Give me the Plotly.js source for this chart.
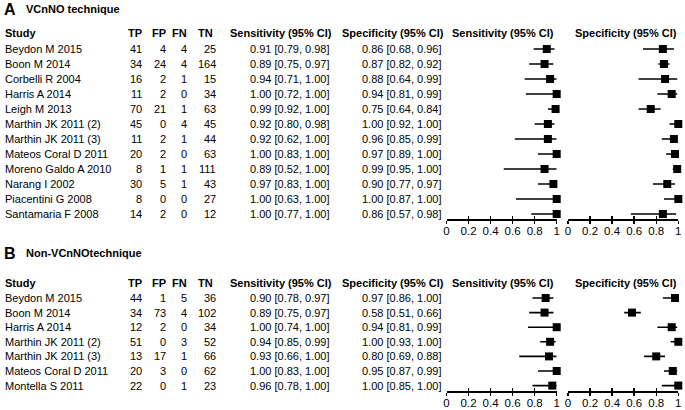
<!DOCTYPE html>
<html><head><meta charset="utf-8">
<script src="https://cdn.plot.ly/plotly-3.0.1.min.js"></script>
<style>html,body{margin:0;padding:0;background:#fff}#chart{width:685px;height:410px}</style>
</head><body><div id="chart"></div>
<script>
// ---------- Panel A data (VCnNO technique) ----------
const studiesA = ["Beydon M 2015","Boon M 2014","Corbelli R 2004","Harris A 2014","Leigh M 2013","Marthin JK 2011 (2)","Marthin JK 2011 (3)","Mateos Coral D 2011","Moreno Galdo A 2010","Narang I 2002","Piacentini G 2008","Santamaria F 2008"];
const tpA = [41,34,16,11,70,45,11,20,8,30,8,14];
const fpA = [4,24,2,2,21,0,2,2,1,5,0,2];
const fnA = [4,4,1,0,1,4,1,0,1,1,0,0];
const tnA = [25,164,15,34,63,45,44,63,111,43,27,12];
const sensA = [0.91,0.89,0.94,1.00,0.99,0.92,0.92,1.00,0.89,0.97,1.00,1.00];
const sensLoA = [0.79,0.75,0.71,0.72,0.92,0.80,0.62,0.83,0.52,0.83,0.63,0.77];
const sensHiA = [0.98,0.97,1.00,1.00,1.00,0.98,1.00,1.00,1.00,1.00,1.00,1.00];
const specA = [0.86,0.87,0.88,0.94,0.75,1.00,0.96,0.97,0.99,0.90,1.00,0.86];
const specLoA = [0.68,0.82,0.64,0.81,0.64,0.92,0.85,0.89,0.95,0.77,0.87,0.57];
const specHiA = [0.96,0.92,0.99,0.99,0.84,1.00,0.99,1.00,1.00,0.97,1.00,0.98];

// ---------- Panel B data (Non-VCnNO technique) ----------
const studiesB = ["Beydon M 2015","Boon M 2014","Harris A 2014","Marthin JK 2011 (2)","Marthin JK 2011 (3)","Mateos Coral D 2011","Montella S 2011"];
const tpB = [44,34,12,51,13,20,22];
const fpB = [1,73,2,0,17,3,0];
const fnB = [5,4,0,3,1,0,1];
const tnB = [36,102,34,52,66,62,23];
const sensB = [0.90,0.89,1.00,0.94,0.93,1.00,0.96];
const sensLoB = [0.78,0.75,0.74,0.85,0.66,0.83,0.78];
const sensHiB = [0.97,0.97,1.00,0.99,1.00,1.00,1.00];
const specB = [0.97,0.58,0.94,1.00,0.80,0.95,1.00];
const specLoB = [0.86,0.51,0.81,0.93,0.69,0.87,0.85];
const specHiB = [1.00,0.66,0.99,1.00,0.88,0.99,1.00];

const tickVals = [0,0.2,0.4,0.6,0.8,1];
const tickText = ["0","0.2","0.4","0.6","0.8","1"];
const headers = ["Study","TP","FP","FN","TN","Sensitivity (95% CI)","Specificity (95% CI)"];

// ---------- layout helpers ----------
const W = 685, H = 410;
const FONT = "Liberation Sans, Arial, Helvetica, sans-serif";
const px = x => x / W;
const py = y => (H - y) / H;

function ci(v, lo, hi){ return v.toFixed(2) + " [" + lo.toFixed(2) + ", " + hi.toFixed(2) + "]"; }

const traces = [];
const annotations = [];

function panel(cfg){
  const n = cfg.studies.length;
  const idx = cfg.studies.map((_, i) => i);
  const mk = (x, lo, hi, xa) => ({
    type: "scatter", mode: "markers", x: x, y: idx, xaxis: xa, yaxis: cfg.ya,
    marker: {symbol: "square", size: 8, color: "#000"},
    error_x: {type: "data", symmetric: false,
      array: hi.map((h, i) => h - x[i]), arrayminus: lo.map((l, i) => x[i] - l),
      width: 0, thickness: 1.6, color: "#000"},
    hoverinfo: "skip", showlegend: false, cliponaxis: false
  });
  traces.push(mk(cfg.sens, cfg.sensLo, cfg.sensHi, cfg.xs));
  traces.push(mk(cfg.spec, cfg.specLo, cfg.specHi, cfg.xp));
  const yref = cfg.ya;
  const base = {yref: yref, xref: "paper", showarrow: false, font: {family: FONT, size: 11, color: "#000"}, yanchor: "middle"};
  const hy = cfg.headerRow;
  const hb = Object.assign({}, base);
  const H_ = (x, t, anc) => annotations.push(Object.assign({}, hb, {x: px(x), y: hy, text: "<b>" + t + "</b>", xanchor: anc}));
  H_(3, headers[0], "left");
  H_(144, headers[1], "right");
  H_(168, headers[2], "right");
  H_(189, headers[3], "right");
  H_(215, headers[4], "right");
  H_(334, headers[5], "right");
  H_(446, headers[6], "right");
  H_(503, headers[5], "center");
  H_(626, headers[6], "center");
  for (let i = 0; i < n; i++){
    annotations.push(Object.assign({}, base, {x: px(3), y: i, text: cfg.studies[i], xanchor: "left"}));
    annotations.push(Object.assign({}, base, {x: px(144), y: i, text: String(cfg.tp[i]), xanchor: "right"}));
    annotations.push(Object.assign({}, base, {x: px(168), y: i, text: String(cfg.fp[i]), xanchor: "right"}));
    annotations.push(Object.assign({}, base, {x: px(189), y: i, text: String(cfg.fn[i]), xanchor: "right"}));
    annotations.push(Object.assign({}, base, {x: px(218), y: i, text: String(cfg.tn[i]), xanchor: "right"}));
    annotations.push(Object.assign({}, base, {x: px(332), y: i, text: ci(cfg.sens[i], cfg.sensLo[i], cfg.sensHi[i]), xanchor: "right"}));
    annotations.push(Object.assign({}, base, {x: px(444), y: i, text: ci(cfg.spec[i], cfg.specLo[i], cfg.specHi[i]), xanchor: "right"}));
  }
  annotations.push({xref: "paper", yref: "paper", x: px(2), y: py(cfg.titleY), text: "<b>" + cfg.letter + "</b>", showarrow: false,
    xanchor: "left", yanchor: "middle", font: {family: FONT, size: 16, color: "#000"}});
  annotations.push({xref: "paper", yref: "paper", x: px(24), y: py(cfg.titleY), text: "<b>" + cfg.title + "</b>", showarrow: false,
    xanchor: "left", yanchor: "middle", font: {family: FONT, size: 11, color: "#000"}});
}

panel({studies: studiesA, tp: tpA, fp: fpA, fn: fnA, tn: tnA, sens: sensA, sensLo: sensLoA, sensHi: sensHiA,
  spec: specA, specLo: specLoA, specHi: specHiA, xs: "x", xp: "x2", ya: "y", headerRow: -1.07, letter: "A", title: "VCnNO technique", titleY: 9});
panel({studies: studiesB, tp: tpB, fp: fpB, fn: fnB, tn: tnB, sens: sensB, sensLo: sensLoB, sensHi: sensHiB,
  spec: specB, specLo: specLoB, specHi: specHiB, xs: "x3", xp: "x4", ya: "y2", headerRow: -1.05, letter: "B", title: "Non-VCnNOtechnique", titleY: 253});

const rowA0 = 49, dA = 15, axA = 219, topA = 24;
const rowB0 = 298, dB = 14.6, axB = 391, topB = 272;
const yA = {domain: [py(axA), py(topA)], range: [(axA - rowA0) / dA, (topA - rowA0) / dA], visible: false, fixedrange: true};
const yB = {domain: [py(axB), py(topB)], range: [(axB - rowB0) / dB, (topB - rowB0) / dB], visible: false, fixedrange: true};

const sensDom = [px(446.5), px(556.7)];
const specDom = [px(568), px(678.3)];
function xax(dom, anchor){
  return {domain: dom, anchor: anchor, range: [0, 1], showgrid: false, zeroline: false, showline: true,
    linecolor: "#000", linewidth: 1.6, ticks: "outside", ticklen: 3, tickwidth: 1.4, tickcolor: "#000",
    tickvals: tickVals, ticktext: tickText, tickfont: {family: FONT, size: 11.5, color: "#000"},
    ticklabelstandoff: -2, fixedrange: true, layer: "above traces"};
}
function xin(dom, anchor, over){
  return {domain: dom, anchor: anchor, overlaying: over, range: [0, 1], showgrid: false, zeroline: false, showline: false,
    ticks: "inside", ticklen: 3, tickwidth: 1.4, tickcolor: "#000", tickvals: tickVals, showticklabels: false, fixedrange: true};
}

["x5","x6"].forEach(a => traces.push({type: "scatter", mode: "markers", x: [], y: [], xaxis: a, yaxis: "y", showlegend: false, hoverinfo: "skip"}));
["x7","x8"].forEach(a => traces.push({type: "scatter", mode: "markers", x: [], y: [], xaxis: a, yaxis: "y2", showlegend: false, hoverinfo: "skip"}));

const layout = {
  width: W, height: H, margin: {l: 0, r: 0, t: 0, b: 0}, paper_bgcolor: "#fff", plot_bgcolor: "rgba(0,0,0,0)",
  showlegend: false, font: {family: FONT, color: "#000"},
  xaxis: xax(sensDom, "y"), xaxis2: xax(specDom, "y"), xaxis3: xax(sensDom, "y2"), xaxis4: xax(specDom, "y2"),
  xaxis5: xin(sensDom, "y", "x"), xaxis6: xin(specDom, "y", "x2"), xaxis7: xin(sensDom, "y2", "x3"), xaxis8: xin(specDom, "y2", "x4"),
  yaxis: yA, yaxis2: yB,
  annotations: annotations
};
Plotly.newPlot("chart", traces, layout, {staticPlot: true, displayModeBar: false});
</script></body></html>
